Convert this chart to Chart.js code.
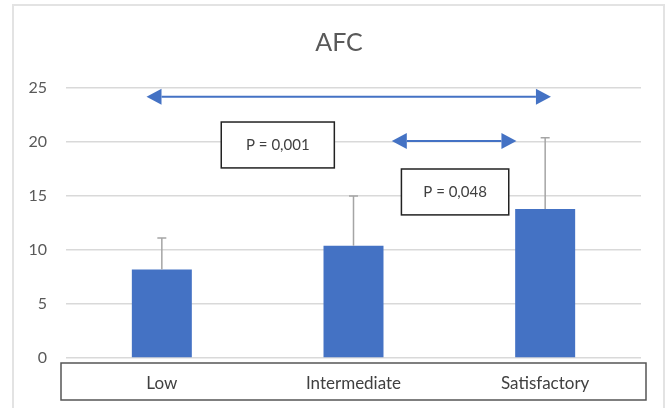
<!DOCTYPE html>
<html lang="en">
<head>
  <meta charset="UTF-8">
  <title>AFC</title>
  <script src="https://cdn.jsdelivr.net/npm/chart.js"></script>
  <style>
    body {
      margin: 0;
      background: #fff;
      font-family: Lato, sans-serif;
    }
    #wrap {
      width: 670px;
      height: 408px;
    }
  </style>
</head>
<body>
<div id="wrap">
  <canvas id="afcChart" width="670" height="408"></canvas>
</div>

<script>
  // data
  const categories = ['Low', 'Intermediate', 'Satisfactory'];
  const afcMeans = [8.2, 10.4, 13.8];
  const afcErrTop = [11.1, 15.0, 20.4];
  const yTicks = [0, 5, 10, 15, 20, 25];
  const chartTitle = 'AFC';

  // comparison arrows (x in category units, y in data units)
  const arrowFrom = [-0.08, 1.2];
  const arrowTo = [2.03, 1.85];
  const arrowY = [24.2, 20.1];

  // p-value boxes
  const pLabels = ['P = 0,001', 'P = 0,048'];
  const pBoxX1 = [0.31, 1.25];
  const pBoxX2 = [0.9, 1.81];
  const pBoxYTop = [21.85, 17.5];
  const pBoxYBottom = [17.6, 13.25];

  const blue = '#4472c4';

  // outer frame, title, box around the category labels
  const framePlugin = {
    id: 'frame',
    beforeDraw(chart) {
      const ctx = chart.ctx;
      ctx.save();
      ctx.fillStyle = '#fff';
      ctx.fillRect(0, 0, chart.width, chart.height);
      ctx.strokeStyle = '#e3e3e3';
      ctx.lineWidth = 2;
      ctx.strokeRect(13, 5, 651, 420);
      ctx.fillStyle = '#595959';
      ctx.font = '25px Lato, sans-serif';
      ctx.textAlign = 'center';
      ctx.textBaseline = 'middle';
      ctx.fillText(chartTitle, 339, 43);
      ctx.restore();
    },
    afterDraw(chart) {
      const ctx = chart.ctx;
      const a = chart.chartArea;
      ctx.save();
      ctx.strokeStyle = '#555';
      ctx.lineWidth = 1.5;
      ctx.strokeRect(a.left - 5, a.bottom + 5, a.right - a.left + 10, 37);
      ctx.restore();
    }
  };

  // error bars (upper only)
  const errorBarPlugin = {
    id: 'errorBars',
    afterDatasetsDraw(chart) {
      const ctx = chart.ctx;
      const x = chart.scales.x;
      const y = chart.scales.y;
      ctx.save();
      ctx.strokeStyle = '#a5a5a5';
      ctx.lineWidth = 1.5;
      afcErrTop.forEach((top, i) => {
        const px = x.getPixelForValue(i);
        const y1 = y.getPixelForValue(afcMeans[i]);
        const y2 = y.getPixelForValue(top);
        ctx.beginPath();
        ctx.moveTo(px, y1);
        ctx.lineTo(px, y2);
        ctx.moveTo(px - 4.5, y2);
        ctx.lineTo(px + 4.5, y2);
        ctx.stroke();
      });
      ctx.restore();
    }
  };

  // double-headed arrows and p-value boxes
  const annotationPlugin = {
    id: 'annotations',
    afterDraw(chart) {
      const ctx = chart.ctx;
      const x = chart.scales.x;
      const y = chart.scales.y;
      ctx.save();
      for (let i = 0; i < arrowY.length; i++) {
        const x1 = x.getPixelForValue(arrowFrom[i]);
        const x2 = x.getPixelForValue(arrowTo[i]);
        const py = y.getPixelForValue(arrowY[i]);
        const head = 15, half = 8;
        ctx.strokeStyle = blue;
        ctx.fillStyle = blue;
        ctx.lineWidth = 2;
        ctx.beginPath();
        ctx.moveTo(x1 + head, py);
        ctx.lineTo(x2 - head, py);
        ctx.stroke();
        ctx.beginPath();
        ctx.moveTo(x1, py);
        ctx.lineTo(x1 + head, py - half);
        ctx.lineTo(x1 + head, py + half);
        ctx.closePath();
        ctx.fill();
        ctx.beginPath();
        ctx.moveTo(x2, py);
        ctx.lineTo(x2 - head, py - half);
        ctx.lineTo(x2 - head, py + half);
        ctx.closePath();
        ctx.fill();
      }
      for (let i = 0; i < pLabels.length; i++) {
        const bx1 = x.getPixelForValue(pBoxX1[i]);
        const bx2 = x.getPixelForValue(pBoxX2[i]);
        const by1 = y.getPixelForValue(pBoxYTop[i]);
        const by2 = y.getPixelForValue(pBoxYBottom[i]);
        ctx.fillStyle = '#fff';
        ctx.fillRect(bx1, by1, bx2 - bx1, by2 - by1);
        ctx.strokeStyle = '#222';
        ctx.lineWidth = 1.5;
        ctx.strokeRect(bx1, by1, bx2 - bx1, by2 - by1);
        ctx.fillStyle = '#404040';
        ctx.font = '15px Lato, sans-serif';
        ctx.textAlign = 'center';
        ctx.textBaseline = 'middle';
        ctx.fillText(pLabels[i], (bx1 + bx2) / 2, (by1 + by2) / 2);
      }
      ctx.restore();
    }
  };

  new Chart(document.getElementById('afcChart').getContext('2d'), {
    type: 'bar',
    data: {
      labels: categories,
      datasets: [{
        label: 'AFC',
        data: afcMeans,
        backgroundColor: blue,
        borderWidth: 0,
        barPercentage: 1,
        categoryPercentage: 0.313
      }]
    },
    options: {
      responsive: false,
      animation: false,
      events: [],
      layout: {
        padding: { left: 0, right: 29, top: 88, bottom: 0 }
      },
      plugins: {
        legend: { display: false },
        tooltip: { enabled: false },
        title: { display: false }
      },
      scales: {
        x: {
          grid: { display: false, drawTicks: false },
          border: { display: false },
          afterFit(scale) {
            scale.height = 50;
          },
          ticks: {
            color: '#404040',
            padding: 15,
            font: { family: 'Lato, sans-serif', size: 17 }
          }
        },
        y: {
          min: 0,
          max: 25,
          afterBuildTicks(scale) {
            scale.ticks = yTicks.map(v => ({ value: v }));
          },
          afterFit(scale) {
            scale.width = 66;
          },
          grid: { color: '#d9d9d9', lineWidth: 1.5, drawTicks: false },
          border: { display: false },
          ticks: {
            color: '#595959',
            padding: 19,
            font: { family: 'Lato, sans-serif', size: 16 }
          }
        }
      }
    },
    plugins: [framePlugin, errorBarPlugin, annotationPlugin]
  });
</script>
</body>
</html>
